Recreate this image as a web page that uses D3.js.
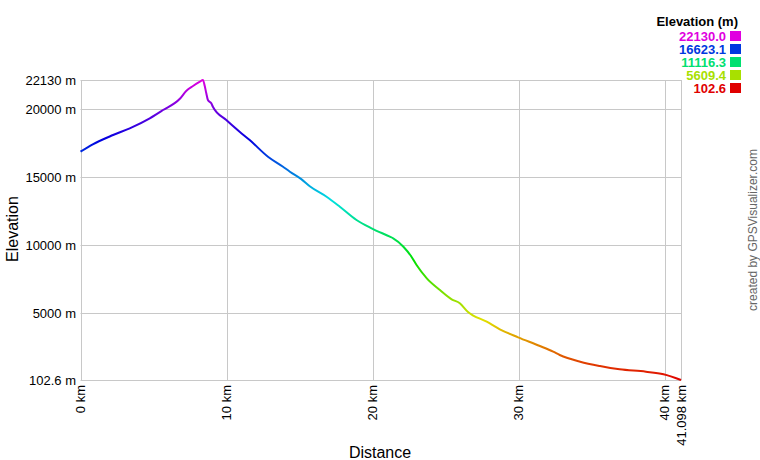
<!DOCTYPE html>
<html>
<head>
<meta charset="utf-8">
<script src="https://cdn.jsdelivr.net/npm/d3@7"></script>
<style>
html,body{margin:0;padding:0;background:#fff;}
svg{display:block;font-family:"Liberation Sans",Arial,sans-serif;}
</style>
</head>
<body>
<svg id="chart" width="760" height="460"></svg>
<script>
const distanceKm = [0, 0.84, 2.23, 3.37, 4.74, 5.65, 6.8, 7.25, 7.7, 8.17, 8.38, 8.5, 8.61, 8.72, 8.95, 9.06, 9.98, 10.89, 11.58, 12.83, 13.86, 14.33, 15.11, 15.69, 16.84, 17.75, 18.89, 19.92, 21.17, 21.4, 22.1, 22.65, 23.0, 23.7, 24.6, 25.4, 25.96, 26.5, 27.8, 28.7, 29.95, 31.44, 32.35, 32.8, 34.2, 35.55, 36.9, 38.7, 39.9, 41.098];
const elevationM = [16865, 17408, 18090, 18582, 19317, 19925, 20750, 21343, 21688, 22003, 22130, 21700, 21152, 20660, 20418, 20169, 19192, 18333, 17723, 16498, 15763, 15396, 14850, 14330, 13560, 12826, 11850, 11240, 10624, 10506, 9890, 9155, 8546, 7569, 6710, 6028, 5734, 5117, 4383, 3825, 3237, 2599, 2180, 1938, 1446, 1130, 888, 712, 521, 102.6];
const yTicks = [102.6, 5000, 10000, 15000, 20000, 22130];
const yTickLabels = ["102.6 m", "5000 m", "10000 m", "15000 m", "20000 m", "22130 m"];
const xTicks = [0, 10, 20, 30, 40, 41.098];
const xTickLabels = ["0 km", "10 km", "20 km", "30 km", "40 km", "41.098 km"];
const legendValues = [22130.0, 16623.1, 11116.3, 5609.4, 102.6];
const legendLabels = ["22130.0", "16623.1", "11116.3", "5609.4", "102.6"];

(function () {
const svg = d3.select("#chart");
const pL = 80.5, pR = 681, pT = 80, pB = 380;
const x = d3.scaleLinear().domain([0, 41.098]).range([pL, pR]);
const y = d3.scaleLinear().domain([102.6, 22130]).range([pB, pT]);
const hue = d3.scaleLinear().domain([102.6, 22130]).range([0, 300]);
const col = v => d3.hsl(hue(v), 1, 0.44).formatHex();
const gridColor = "#c8c8c8";

const g = svg.append("g");
g.selectAll("line.h").data(yTicks).join("line")
  .attr("x1", pL).attr("x2", pR)
  .attr("y1", d => Math.round(y(d)) + 0.5).attr("y2", d => Math.round(y(d)) + 0.5)
  .attr("stroke", gridColor).attr("stroke-width", 1);
g.selectAll("line.v").data(xTicks).join("line")
  .attr("y1", pT).attr("y2", pB + 0.5)
  .attr("x1", d => Math.round(x(d)) + 0.5).attr("x2", d => Math.round(x(d)) + 0.5)
  .attr("stroke", gridColor).attr("stroke-width", 1);

svg.selectAll("text.yt").data(yTicks).join("text")
  .attr("x", 76).attr("y", d => y(d) + 4.5)
  .attr("text-anchor", "end").attr("font-size", 13).attr("fill", "#000")
  .text((d, i) => yTickLabels[i]);

svg.selectAll("text.xt").data(xTicks).join("text")
  .attr("transform", d => `translate(${x(d) + 4.5},385) rotate(-90)`)
  .attr("text-anchor", "end").attr("font-size", 13).attr("fill", "#000")
  .text((d, i) => xTickLabels[i]);

const defs = svg.append("defs");
const grad = defs.append("linearGradient").attr("id", "elevGrad")
  .attr("gradientUnits", "userSpaceOnUse")
  .attr("x1", 0).attr("x2", 0).attr("y1", y(102.6)).attr("y2", y(22130));
d3.range(0, 1.0001, 0.05).forEach(t => {
  const v = 102.6 + t * (22130 - 102.6);
  grad.append("stop").attr("offset", t).attr("stop-color", col(v));
});

const line = d3.line().x((d, i) => x(distanceKm[i])).y(d => y(d)).curve(d3.curveMonotoneX);
svg.append("path").datum(elevationM)
  .attr("d", line).attr("fill", "none")
  .attr("stroke", "url(#elevGrad)").attr("stroke-width", 2)
  .attr("stroke-linejoin", "round");

svg.append("text").attr("x", 380).attr("y", 458).attr("text-anchor", "middle")
  .attr("font-size", 16).attr("fill", "#000").text("Distance");
svg.append("text").attr("transform", "translate(18,229) rotate(-90)")
  .attr("text-anchor", "middle").attr("font-size", 16).attr("fill", "#000").text("Elevation");

svg.append("text").attr("x", 738).attr("y", 26).attr("text-anchor", "end")
  .attr("font-size", 13).attr("font-weight", "bold").attr("fill", "#000").text("Elevation (m)");
const lg = svg.selectAll("g.lg").data(legendValues).join("g")
  .attr("transform", (d, i) => `translate(0,${41 + i * 13})`);
lg.append("text").attr("x", 726).attr("y", 0).attr("text-anchor", "end")
  .attr("font-size", 13).attr("font-weight", "bold").attr("fill", d => col(d))
  .text((d, i) => legendLabels[i]);
lg.append("rect").attr("x", 730).attr("y", -10).attr("width", 11).attr("height", 10)
  .attr("fill", d => col(d));

svg.append("text").attr("transform", "translate(757,230) rotate(-90)")
  .attr("text-anchor", "middle").attr("font-size", 12).attr("fill", "#666")
  .text("created by GPSVisualizer.com");
})();
</script>
</body>
</html>
